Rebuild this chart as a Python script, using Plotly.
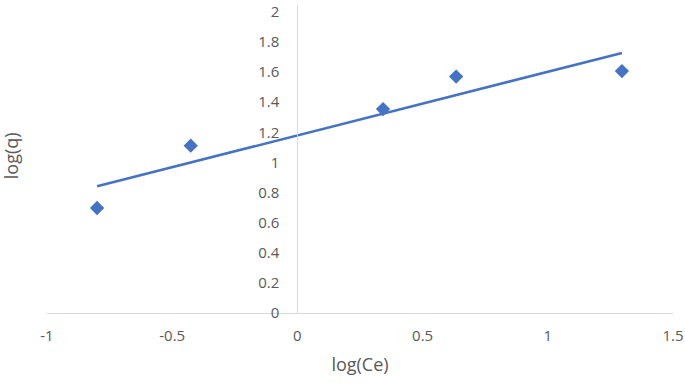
import numpy as np
import plotly.graph_objects as go

log_ce = [-0.80, -0.426, 0.342, 0.634, 1.296]
log_q = [0.697, 1.111, 1.354, 1.570, 1.606]
x_ticks = [-1, -0.5, 0, 0.5, 1, 1.5]
y_ticks = [0, 0.2, 0.4, 0.6, 0.8, 1, 1.2, 1.4, 1.6, 1.8, 2]

slope, intercept = np.polyfit(log_ce, log_q, 1)
x_fit = [min(log_ce), max(log_ce)]
y_fit = [slope * v + intercept for v in x_fit]

blue = "#4472C4"
grey_txt = "#595959"
axis_col = "#D9D9D9"
font = "Open Sans"

fig = go.Figure()
fig.add_trace(go.Scatter(x=log_ce, y=log_q, mode="markers",
                         marker=dict(symbol="diamond", size=11, color=blue),
                         showlegend=False, cliponaxis=False))
fig.add_trace(go.Scatter(x=x_fit, y=y_fit, mode="lines",
                         line=dict(color=blue, width=2.5),
                         showlegend=False))

fig.update_layout(
    width=685, height=383,
    margin=dict(l=47, r=12, t=5, b=70, autoexpand=False),
    paper_bgcolor="white", plot_bgcolor="white",
    font=dict(family=font, size=15, color=grey_txt),
    xaxis=dict(range=[-1, 1.5], tickvals=x_ticks, ticktext=[str(t) for t in x_ticks],
               showgrid=False, zeroline=False, showline=True, linecolor=axis_col,
               linewidth=1, ticks="", ticklabelstandoff=9, automargin=False,
               ticklabeloverflow="allow",
               title=dict(text="log(Ce)", font=dict(size=18, color=grey_txt), standoff=14)),
    yaxis=dict(range=[0, 2.045], tickvals=y_ticks, ticktext=[str(t) for t in y_ticks],
               anchor="free", position=0.4, automargin=False,
               showgrid=False, zeroline=False, showline=True, linecolor=axis_col,
               linewidth=1, ticks="", ticklabelstandoff=15, ticklabeloverflow="allow"),
    annotations=[dict(text="log(q)", xref="paper", yref="paper", x=-0.057, y=0.51,
                      xanchor="center", yanchor="middle", textangle=-90,
                      showarrow=False, font=dict(size=18, color=grey_txt))],
)

fig.write_html("out.html", config={"displayModeBar": False},
               post_script="document.body.style.margin='0px';")
